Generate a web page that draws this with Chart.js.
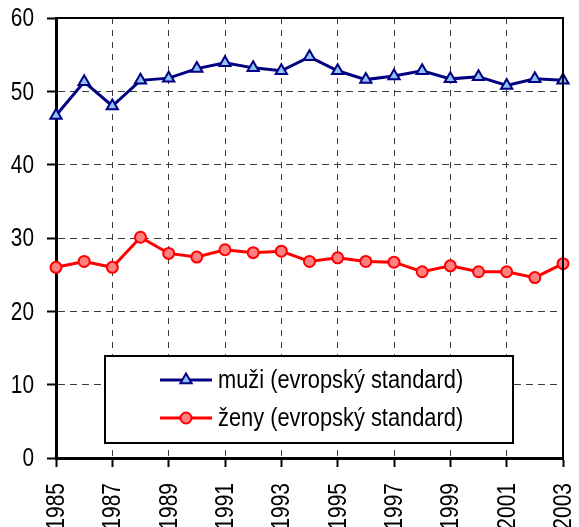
<!DOCTYPE html>
<html lang="cs">
<head>
<meta charset="UTF-8">
<title>muži / ženy (evropský standard)</title>
<script src="https://cdn.jsdelivr.net/npm/chart.js"></script>
<style>
  html, body { margin: 0; padding: 0; background: #fff; }
  #wrap { width: 579px; height: 527px; }
</style>
</head>
<body>
<div id="wrap"><canvas id="chart" width="579" height="527"></canvas></div>
<script>
// data
const years = [1985, 1986, 1987, 1988, 1989, 1990, 1991, 1992, 1993, 1994,
               1995, 1996, 1997, 1998, 1999, 2000, 2001, 2002, 2003];
const muzi = [46.7, 51.3, 48.0, 51.5, 51.8, 53.1, 53.9, 53.2, 52.8, 54.7,
              52.8, 51.6, 52.1, 52.8, 51.7, 52.0, 50.8, 51.7, 51.5];
const zeny = [26.0, 26.8, 26.0, 30.1, 27.9, 27.4, 28.4, 28.0, 28.2, 26.8,
              27.3, 26.8, 26.7, 25.4, 26.2, 25.4, 25.4, 24.6, 26.5];
const seriesNames = ['muži (evropský standard)', 'ženy (evropský standard)'];

const FONT = '"Liberation Sans", Arial, sans-serif';
Chart.defaults.font.family = FONT;
Chart.defaults.color = '#000';

// the original uses a narrow face; squeeze the regular one along the text
function narrowText(ctx, text, x, y, align, rot, k) {
  ctx.save();
  ctx.translate(x, y);
  if (rot) ctx.rotate(rot);
  ctx.scale(k, 1);
  ctx.textAlign = align;
  ctx.textBaseline = 'middle';
  ctx.fillText(text, 0, 0);
  ctx.restore();
}

// closes the plot box on top and right
const frame = {
  id: 'frame',
  afterDatasetsDraw(chart) {
    const { ctx, chartArea: a } = chart;
    ctx.save();
    ctx.strokeStyle = '#000';
    ctx.lineWidth = 2;
    ctx.beginPath();
    ctx.moveTo(a.left, a.top);
    ctx.lineTo(a.right, a.top);
    ctx.lineTo(a.right, a.bottom);
    ctx.stroke();
    ctx.restore();
  }
};

// tick labels in the narrow look, placed from the scales' own ticks
const tickLabels = {
  id: 'tickLabels',
  afterDraw(chart) {
    const ctx = chart.ctx;
    const xs = chart.scales.x, ys = chart.scales.y;
    ctx.save();
    ctx.fillStyle = '#000';
    ctx.font = '26px ' + FONT;
    ys.ticks.forEach(t => {
      narrowText(ctx, String(t.value), ys.right - 22, ys.getPixelForValue(t.value) + 1, 'right', 0, 0.8);
    });
    ctx.font = '25px ' + FONT;
    xs.ticks.forEach(t => {
      narrowText(ctx, String(t.value), xs.getPixelForValue(t.value) + 1, xs.top + 25, 'right', -Math.PI / 2, 0.84);
    });
    ctx.restore();
  }
};

// boxed legend sitting inside the plot
const boxLegend = {
  id: 'boxLegend',
  afterDraw(chart) {
    const ctx = chart.ctx;
    const x0 = 105, y0 = 356, w = 408, h = 87;
    ctx.save();
    ctx.fillStyle = '#fff';
    ctx.fillRect(x0, y0, w, h);
    ctx.strokeStyle = '#000';
    ctx.lineWidth = 2;
    ctx.strokeRect(x0, y0, w, h);
    chart.data.datasets.forEach((ds, i) => {
      const y = y0 + 24 + i * 38;
      ctx.strokeStyle = ds.borderColor;
      ctx.lineWidth = ds.borderWidth;
      ctx.beginPath();
      ctx.moveTo(160, y);
      ctx.lineTo(212, y);
      ctx.stroke();
      ctx.fillStyle = ds.pointBackgroundColor;
      ctx.strokeStyle = ds.pointBorderColor;
      ctx.lineWidth = ds.pointBorderWidth;
      Chart.helpers.drawPoint(ctx, {
        pointStyle: ds.pointStyle,
        radius: ds.pointRadius,
        borderWidth: ds.pointBorderWidth,
        rotation: 0
      }, 186, y);
      ctx.fillStyle = '#000';
      ctx.font = '26px ' + FONT;
      narrowText(ctx, ds.label, 218, y + 1, 'left', 0, 0.84);
    });
    ctx.restore();
  }
};

function noPad(scale) {
  scale.paddingLeft = 0;
  scale.paddingRight = 0;
  scale.paddingTop = 0;
  scale.paddingBottom = 0;
}

new Chart(document.getElementById('chart'), {
  type: 'line',
  data: {
    datasets: [
      {
        label: seriesNames[0],
        data: years.map((y, i) => ({ x: y, y: muzi[i] })),
        borderColor: '#000080',
        borderWidth: 3,
        pointStyle: 'triangle',
        pointRadius: 6.5,
        pointBackgroundColor: '#8fc3f5',
        pointBorderColor: '#000080',
        pointBorderWidth: 2,
        tension: 0
      },
      {
        label: seriesNames[1],
        data: years.map((y, i) => ({ x: y, y: zeny[i] })),
        borderColor: '#ff0000',
        borderWidth: 3,
        pointStyle: 'circle',
        pointRadius: 5.5,
        pointBackgroundColor: '#ff8080',
        pointBorderColor: '#ff0000',
        pointBorderWidth: 2,
        tension: 0
      }
    ]
  },
  options: {
    responsive: false,
    animation: false,
    clip: false,
    layout: { padding: { top: 18, right: 16, left: 0, bottom: 0 } },
    plugins: {
      legend: { display: false },
      tooltip: { enabled: false }
    },
    scales: {
      x: {
        type: 'linear',
        min: 1985,
        max: 2003,
        afterFit(scale) { scale.height = 69; noPad(scale); },
        ticks: { stepSize: 2, display: false },
        grid: {
          color: '#3a3a3a',
          lineWidth: 1,
          tickLength: 9,
          tickColor: '#000',
          tickWidth: 2
        },
        border: { color: '#000', width: 3, dash: [6, 6] }
      },
      y: {
        min: 0,
        max: 60,
        afterFit(scale) { scale.width = 56; noPad(scale); },
        ticks: { stepSize: 10, display: false },
        grid: {
          color: '#3a3a3a',
          lineWidth: 1,
          tickLength: 9,
          tickColor: '#000',
          tickWidth: 2
        },
        border: { color: '#000', width: 3, dash: [7, 5] }
      }
    }
  },
  plugins: [frame, tickLabels, boxLegend]
});
</script>
</body>
</html>
